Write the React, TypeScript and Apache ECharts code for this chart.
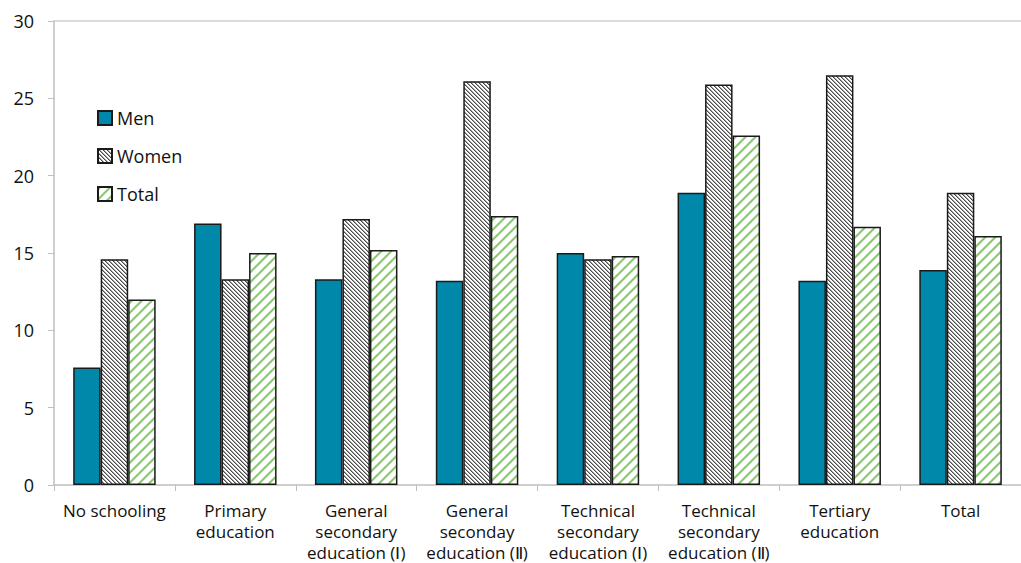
import React, { useEffect, useRef } from "react";
import * as echarts from "echarts";

const categories = [
  "No schooling",
  "Primary\neducation",
  "General\nsecondary\neducation (Ⅰ)",
  "General\nseconday\neducation (Ⅱ)",
  "Technical\nsecondary\neducation (Ⅰ)",
  "Technical\nsecondary\neducation (Ⅱ)",
  "Tertiary\neducation",
  "Total",
];
const men = [7.6, 16.9, 13.3, 13.2, 15.0, 18.9, 13.2, 13.9];
const women = [14.6, 13.3, 17.2, 26.1, 14.6, 25.9, 26.5, 18.9];
const total = [12.0, 15.0, 15.2, 17.4, 14.8, 22.6, 16.7, 16.1];
const seriesNames = ["Men", "Women", "Total"];

function makePattern(size: number, pick: (d: number) => string | null, dir: 1 | -1) {
  const c = document.createElement("canvas");
  c.width = size;
  c.height = size;
  const ctx = c.getContext("2d")!;
  ctx.fillStyle = "#ffffff";
  ctx.fillRect(0, 0, size, size);
  for (let x = 0; x < size; x++) {
    for (let y = 0; y < size; y++) {
      const d = (((dir === 1 ? x - y : x + y) % size) + size) % size;
      const col = pick(d);
      if (col) {
        ctx.fillStyle = col;
        ctx.fillRect(x, y, 1, 1);
      }
    }
  }
  return c;
}

export default function App() {
  const ref = useRef<HTMLDivElement>(null);
  useEffect(() => {
    if (!ref.current) return;
    const chart = echarts.init(ref.current, null, { renderer: "svg" });
    const womenPat = makePattern(
      4,
      (d) => (d === 0 ? "#4a4a4a" : d === 1 ? "#a5a5a5" : null),
      1
    );
    const totalPat = makePattern(
      10,
      (d) =>
        d === 0 || d === 3 ? "#c6e4ba" : d === 1 || d === 2 ? "#8cc873" : null,
      -1
    );
    const font = "'Open Sans', 'Noto Sans', sans-serif";
    const border = { borderColor: "#1a1a1a", borderWidth: 1.5 };
    chart.setOption({
      animation: false,
      textStyle: { fontFamily: font },
      grid: { left: 54, top: 21, bottom: 77, right: -12, containLabel: false },
      legend: {
        orient: "vertical",
        left: 97,
        top: 109,
        padding: 0,
        itemWidth: 14,
        itemHeight: 14,
        itemGap: 20,
        icon: "rect",
        data: seriesNames,
        textStyle: { fontSize: 18, color: "#111", fontFamily: font },
      },
      xAxis: [
        {
          type: "category",
          data: categories,
          axisLine: { lineStyle: { color: "#bfbfbf", width: 1.5 } },
          axisTick: { show: true, length: 6, lineStyle: { color: "#bfbfbf" } },
          axisLabel: {
            interval: 0,
            margin: 15,
            fontSize: 17,
            lineHeight: 21,
            color: "#111",
            fontFamily: font,
          },
        },
        {
          type: "category",
          data: categories,
          position: "top",
          axisLine: { lineStyle: { color: "#d0d0d0", width: 1.5 } },
          axisTick: { show: false },
          axisLabel: { show: false },
        },
      ],
      yAxis: {
        type: "value",
        min: 0,
        max: 30,
        interval: 5,
        axisLine: { show: true, lineStyle: { color: "#bfbfbf", width: 1.5 } },
        axisTick: { show: true, length: 6, lineStyle: { color: "#bfbfbf" } },
        splitLine: { show: false },
        axisLabel: { fontSize: 18, color: "#111", margin: 20, fontFamily: font },
      },
      series: [
        {
          name: seriesNames[0],
          type: "bar",
          data: men,
          barWidth: 27.5,
          barGap: "0%",
          itemStyle: { color: "#0088ab", ...border },
        },
        {
          name: seriesNames[1],
          type: "bar",
          data: women,
          barWidth: 27.5,
          barGap: "0%",
          itemStyle: { color: { image: womenPat, repeat: "repeat" }, ...border },
        },
        {
          name: seriesNames[2],
          type: "bar",
          data: total,
          barWidth: 27.5,
          barGap: "0%",
          itemStyle: { color: { image: totalPat, repeat: "repeat" }, ...border },
        },
      ],
    });
    return () => chart.dispose();
  }, []);
  return (
    <div
      ref={ref}
      style={{ position: "absolute", left: 0, top: 0, width: 1021, height: 563 }}
    />
  );
}
